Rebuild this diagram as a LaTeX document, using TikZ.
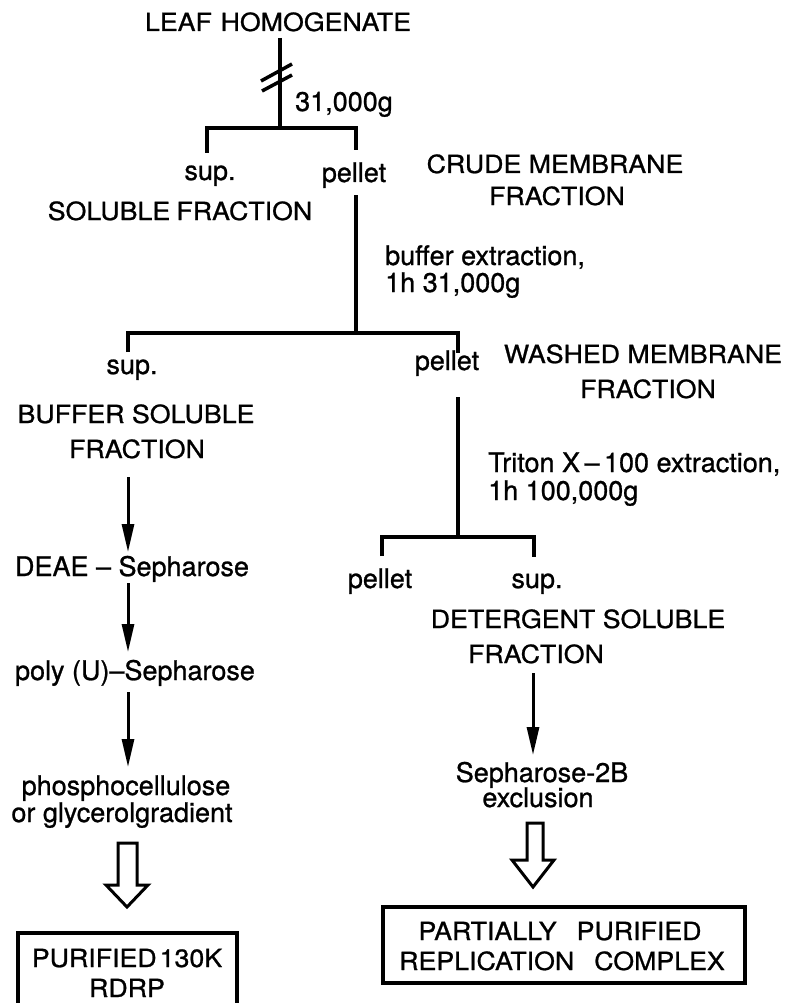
\documentclass[tikz,border=0pt]{standalone}
\usepackage{fontspec}
\setmainfont[FakeBold=0.9]{TeX Gyre Heros}
\newfontfamily\capsfont[FakeStretch=1.07,FakeBold=0.9]{TeX Gyre Heros}
\usetikzlibrary{arrows.meta}
\begin{document}
\begin{tikzpicture}[x=1pt,y=-1pt,
  captxt/.style={font=\capsfont\fontsize{25}{29}\selectfont, inner sep=0pt, anchor=base},
  lowtxt/.style={font=\fontsize{27}{31}\selectfont, inner sep=0pt, anchor=base},
  lowleft/.style={lowtxt, anchor=base west},
  treeline/.style={line width=4pt},
  thinarrow/.style={line width=3pt, -{Triangle[length=28pt,width=12pt]}},
  hollowarrow/.style={line width=3pt, line join=miter},
  boxline/.style={line width=3.5pt}]
\useasboundingbox (0,0) rectangle (802,1003);

% ---- texts ----
\node[captxt] (leaf) at (278,31) {LEAF\hspace{0.35em}HOMOGENATE};
\node[lowleft] (g1) at (295,111) {31,000g};
\node[lowtxt] (sup1) at (210,180) {sup.};
\node[lowtxt] (pel1) at (354,182) {pellet};
\node[captxt] (sol) at (180,220) {SOLUBLE\hspace{0.25em}FRACTION};
\node[captxt] (crude1) at (555,173) {CRUDE MEMBRANE};
\node[captxt] (crude2) at (557,205) {FRACTION};
\node[lowleft] (buf1) at (385,265) {buffer extraction,};
\node[lowleft] (buf2) at (385,292) {1h 31,000g};
\node[lowtxt] (sup2) at (132,374) {sup.};
\node[captxt] (bs1) at (136,423) {BUFFER SOLUBLE};
\node[captxt] (bs2) at (137,458) {FRACTION};
\node[lowtxt] (pel2) at (447,370) {pellet};
\node[captxt] (wm1) at (643,363) {WASHED MEMBRANE};
\node[captxt] (wm2) at (648,398) {FRACTION};
\node[lowleft] (tri1) at (488,472) {Triton X\,–\,100 extraction,};
\node[lowleft] (tri2) at (488,500) {1h 100,000g};
\node[lowtxt] (deae) at (132,576) {DEAE – Sepharose};
\node[lowtxt] (pel3) at (380,588) {pellet};
\node[lowtxt] (sup3) at (537,588) {sup.};
\node[captxt] (det1) at (578,628) {DETERGENT SOLUBLE};
\node[captxt] (det2) at (536,663) {FRACTION};
\node[lowtxt] (poly) at (135,680) {poly (U)–Sepharose};
\node[lowtxt] (phos1) at (126,795) {phosphocellulose};
\node[lowtxt] (phos2) at (122,822) {or glycerolgradient};
\node[lowtxt] (seph1) at (542,782) {Sepharose-2B};
\node[lowtxt] (seph2) at (538,807) {exclusion};
\node[captxt] (pur1) at (127,967) {PURIFIED\hspace{0.12em}130K};
\node[captxt] (pur2) at (127,997) {RDRP};
\node[captxt] (par1) at (560,940) {PARTIALLY\hspace{0.8em}PURIFIED};
\node[captxt] (par2) at (562,970) {REPLICATION\hspace{0.8em}COMPLEX};

% ---- tree coordinates ----
\coordinate (t0) at (280,38);
\coordinate (t1) at (280,128);
\coordinate (b1l) at (207,153);
\coordinate (b1lt) at (207,128);
\coordinate (b1rt) at (356,128);
\coordinate (b1r) at (356,150);
\coordinate (v2a) at (356,195);
\coordinate (v2b) at (356,333);
\coordinate (b2l) at (128,352);
\coordinate (b2lt) at (128,333);
\coordinate (b2rt) at (458,333);
\coordinate (b2r) at (458,353);
\coordinate (v3a) at (458,397);
\coordinate (v3b) at (458,537);
\coordinate (b3l) at (382,556);
\coordinate (b3lt) at (382,537);
\coordinate (b3rt) at (534,537);
\coordinate (b3r) at (534,557);

\draw[treeline] (t0) -- (t1);
\draw[treeline] (b1l) -- (b1lt) -- (b1rt) -- (b1r);
\draw[treeline] (v2a) -- (v2b);
\draw[treeline] (b2l) -- (b2lt) -- (b2rt) -- (b2r);
\draw[treeline] (v3a) -- (v3b);
\draw[treeline] (b3l) -- (b3lt) -- (b3rt) -- (b3r);

% double slash (centrifugation)
\draw[line width=3.5pt] (261,81) -- (292,64);
\draw[line width=3.5pt] (262,91) -- (292,75);

% ---- thin arrows ----
\coordinate (a1s) at (128,477); \coordinate (a1e) at (128,552);
\coordinate (a2s) at (128,583); \coordinate (a2e) at (128,652);
\coordinate (a3s) at (128,692); \coordinate (a3e) at (128,767);
\coordinate (a4s) at (533,673); \coordinate (a4e) at (533,755);
\draw[thinarrow] (a1s) -- (a1e);
\draw[thinarrow] (a2s) -- (a2e);
\draw[thinarrow] (a3s) -- (a3e);
\draw[thinarrow] (a4s) -- (a4e);

% ---- hollow arrows ----
\draw[hollowarrow] (118,843) -- (137,843) -- (137,885) -- (148,885) -- (127,907)
  -- (106,885) -- (118,885) -- cycle;
\draw[hollowarrow] (527,823) -- (543,823) -- (543,860) -- (554,860) -- (533,887)
  -- (512,860) -- (527,860) -- cycle;

% ---- boxes ----
\draw[boxline] (18,1006) -- (18,933) -- (237,933) -- (237,1006);
\draw[boxline] (383,907) rectangle (745,983);
\end{tikzpicture}
\end{document}
